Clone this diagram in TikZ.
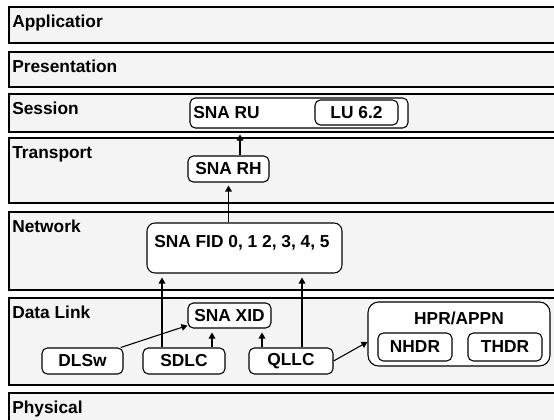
\documentclass[tikz,border=0pt]{standalone}
\usepackage{fontspec}
\setmainfont{Liberation Sans}
\usetikzlibrary{arrows.meta}
\definecolor{layerfill}{RGB}{244,244,244}
\begin{document}
\begin{tikzpicture}[x=0.75pt,y=-0.75pt,
  font=\fontsize{13}{15}\selectfont\bfseries,
  layer/.style={draw=black, line width=0.9pt, fill=layerfill},
  lab/.style={anchor=base west, inner sep=0pt},
  ibox/.style={draw=black, line width=0.8pt, fill=white, rounded corners=4pt, inner sep=0pt},
  txt/.style={inner sep=0pt},
  arr/.style={line width=0.8pt, -{Triangle[length=4.5pt,width=5pt]}}
]
\useasboundingbox (0,0) rectangle (554,420);
\clip (0,0) rectangle (554,420);
\fill[white] (0,0) rectangle (554,420);
% layers
\draw[layer] (9,7) rectangle (600,43);
\draw[layer] (9,52) rectangle (600,87);
\draw[layer] (9,94) rectangle (600,132);
\draw[layer] (9,138) rectangle (600,203);
\draw[layer] (9,212) rectangle (600,290);
\draw[layer] (9,298) rectangle (600,385);
\draw[layer] (9,393) rectangle (600,440);
\node[lab] (lapp) at (12,28) {Applicatior};
\node[lab] (lpre) at (12,73) {Presentation};
\node[lab] (lses) at (12,115) {Session};
\node[lab] (ltra) at (12,159) {Transport};
\node[lab] (lnet) at (12,233) {Network};
\node[lab] (ldl) at (12,319) {Data Link};
\node[lab] (lphy) at (12,414) {Physical};
% session
\node[ibox, minimum width=163.5pt, minimum height=22.5pt] (ru) at (299,113) {};
\node[txt, anchor=west] (rut) at (193,113) {SNA RU};
\node[ibox, minimum width=62.25pt, minimum height=18.75pt] (lu) at (356.5,112.5) {LU 6.2};
% transport
\node[ibox, minimum width=60.75pt, minimum height=19.5pt] (rh) at (228.5,169) {SNA RH};
% network
\node[ibox, rounded corners=6pt, minimum width=146.25pt, minimum height=37.5pt] (fid) at (244.5,248) {};
\node[txt, anchor=west] (fidt) at (154,243) {SNA FID 0, 1 2, 3, 4, 5};
% data link
\node[ibox, minimum width=62.25pt, minimum height=18.75pt] (xid) at (229.5,315.5) {SNA XID};
\node[ibox, minimum width=60.75pt, minimum height=19.5pt] (dlsw) at (82.5,361) {DLSw};
\node[ibox, minimum width=61.5pt, minimum height=19.5pt] (sdlc) at (184,361) {SDLC};
\node[ibox, minimum width=63pt, minimum height=19.5pt] (qllc) at (291,361) {QLLC};
\node[ibox, rounded corners=8pt, minimum width=136.5pt, minimum height=48pt] (hpr) at (459,334) {};
\node[txt] (hprt) at (459,318) {HPR/APPN};
\node[ibox, minimum width=55.5pt, minimum height=21pt] (nhdr) at (415,347) {NHDR};
\node[ibox, minimum width=55.5pt, minimum height=21pt] (thdr) at (505,347) {THDR};
% arrows
\coordinate (rhtop) at ([xshift=8.625pt]rh.north);
\draw[arr, shorten >=4.5pt] (rhtop) -- (rhtop |- ru.south);
\draw[arr, shorten >=2.25pt] (fid.north -| rh.south) -- (rh.south);
\coordinate (sdlcl) at ([xshift=-16.5pt]sdlc.north);
\coordinate (sdlcr) at ([xshift=21pt]sdlc.north);
\coordinate (qllcl) at ([xshift=-21.75pt]qllc.north);
\coordinate (qllcr) at ([xshift=8.25pt]qllc.north);
\draw[arr, shorten >=3pt] (sdlcl) -- (sdlcl |- fid.south);
\draw[arr, shorten >=3pt] (sdlcr) -- (sdlcr |- xid.south);
\draw[arr, shorten >=3pt] (qllcl) -- (qllcl |- xid.south);
\draw[arr, shorten >=3pt] (qllcr) -- (qllcr |- fid.south);
\draw[arr] ([xshift=-2pt]dlsw.north east) -- ([yshift=2.25pt]xid.south west);
\draw[arr] (qllc.east) -- ([yshift=-6pt]hpr.west);
\end{tikzpicture}
\end{document}
